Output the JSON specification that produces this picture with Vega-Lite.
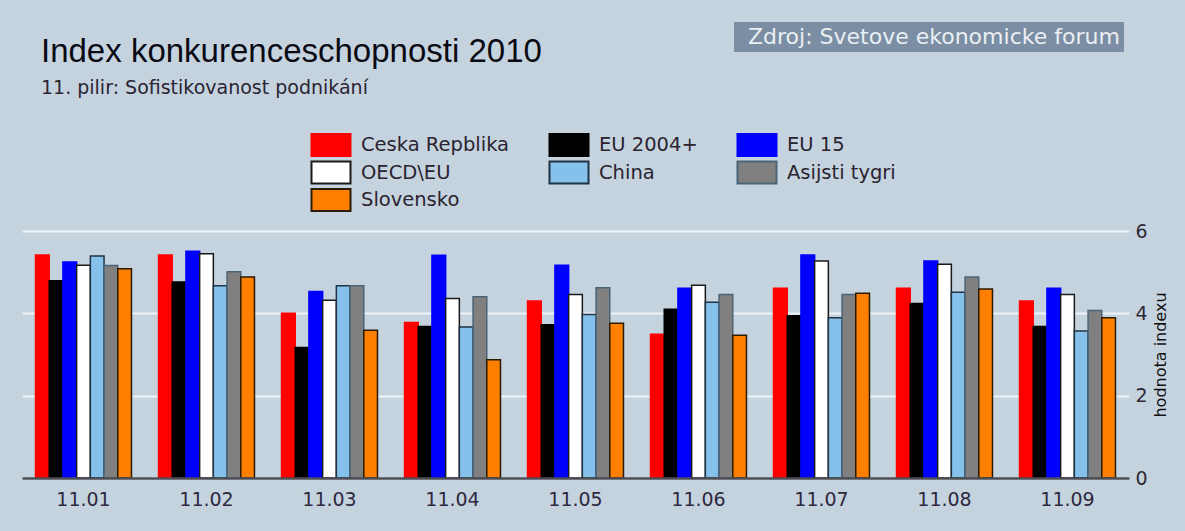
{
  "$schema": "https://vega.github.io/schema/vega-lite/v6.json",
  "width": 1107,
  "height": 247,
  "autosize": {"type": "none"},
  "padding": {"left": 22, "top": 231, "right": 56, "bottom": 53},
  "background": "#c5d3df",
  "config": {"view": {"stroke": null}},
  "title": {
    "text": "Index konkurenceschopnosti 2010",
    "subtitle": "11. pilir: Sofistikovanost podnikání",
    "anchor": "start",
    "frame": "group",
    "font": "Liberation Sans",
    "fontSize": 33,
    "fontWeight": "normal",
    "color": "#0a0a14",
    "subtitleFont": "DejaVu Sans",
    "subtitleFontSize": 19,
    "subtitleColor": "#2a2433",
    "subtitlePadding": 10,
    "offset": 0,
    "dy": 76,
    "dx": 19
  },
  "layer": [
    {
      "data": {"values": [
        {"pilir": "11.01", "skupina": "Ceska Repblika", "hodnota": 5.42},
        {"pilir": "11.01", "skupina": "EU 2004+", "hodnota": 4.79},
        {"pilir": "11.01", "skupina": "EU 15", "hodnota": 5.25},
        {"pilir": "11.01", "skupina": "OECD\\EU", "hodnota": 5.17},
        {"pilir": "11.01", "skupina": "China", "hodnota": 5.39},
        {"pilir": "11.01", "skupina": "Asijsti tygri", "hodnota": 5.16},
        {"pilir": "11.01", "skupina": "Slovensko", "hodnota": 5.08},
        {"pilir": "11.02", "skupina": "Ceska Repblika", "hodnota": 5.42},
        {"pilir": "11.02", "skupina": "EU 2004+", "hodnota": 4.76},
        {"pilir": "11.02", "skupina": "EU 15", "hodnota": 5.51},
        {"pilir": "11.02", "skupina": "OECD\\EU", "hodnota": 5.45},
        {"pilir": "11.02", "skupina": "China", "hodnota": 4.67},
        {"pilir": "11.02", "skupina": "Asijsti tygri", "hodnota": 5.01},
        {"pilir": "11.02", "skupina": "Slovensko", "hodnota": 4.88},
        {"pilir": "11.03", "skupina": "Ceska Repblika", "hodnota": 4.0},
        {"pilir": "11.03", "skupina": "EU 2004+", "hodnota": 3.17},
        {"pilir": "11.03", "skupina": "EU 15", "hodnota": 4.53},
        {"pilir": "11.03", "skupina": "OECD\\EU", "hodnota": 4.32},
        {"pilir": "11.03", "skupina": "China", "hodnota": 4.67},
        {"pilir": "11.03", "skupina": "Asijsti tygri", "hodnota": 4.67},
        {"pilir": "11.03", "skupina": "Slovensko", "hodnota": 3.59},
        {"pilir": "11.04", "skupina": "Ceska Repblika", "hodnota": 3.78},
        {"pilir": "11.04", "skupina": "EU 2004+", "hodnota": 3.68},
        {"pilir": "11.04", "skupina": "EU 15", "hodnota": 5.41},
        {"pilir": "11.04", "skupina": "OECD\\EU", "hodnota": 4.36},
        {"pilir": "11.04", "skupina": "China", "hodnota": 3.67},
        {"pilir": "11.04", "skupina": "Asijsti tygri", "hodnota": 4.4},
        {"pilir": "11.04", "skupina": "Slovensko", "hodnota": 2.87},
        {"pilir": "11.05", "skupina": "Ceska Repblika", "hodnota": 4.3},
        {"pilir": "11.05", "skupina": "EU 2004+", "hodnota": 3.72},
        {"pilir": "11.05", "skupina": "EU 15", "hodnota": 5.17},
        {"pilir": "11.05", "skupina": "OECD\\EU", "hodnota": 4.46},
        {"pilir": "11.05", "skupina": "China", "hodnota": 3.97},
        {"pilir": "11.05", "skupina": "Asijsti tygri", "hodnota": 4.62},
        {"pilir": "11.05", "skupina": "Slovensko", "hodnota": 3.76},
        {"pilir": "11.06", "skupina": "Ceska Repblika", "hodnota": 3.49},
        {"pilir": "11.06", "skupina": "EU 2004+", "hodnota": 4.1},
        {"pilir": "11.06", "skupina": "EU 15", "hodnota": 4.61},
        {"pilir": "11.06", "skupina": "OECD\\EU", "hodnota": 4.68},
        {"pilir": "11.06", "skupina": "China", "hodnota": 4.27},
        {"pilir": "11.06", "skupina": "Asijsti tygri", "hodnota": 4.46},
        {"pilir": "11.06", "skupina": "Slovensko", "hodnota": 3.47},
        {"pilir": "11.07", "skupina": "Ceska Repblika", "hodnota": 4.61},
        {"pilir": "11.07", "skupina": "EU 2004+", "hodnota": 3.94},
        {"pilir": "11.07", "skupina": "EU 15", "hodnota": 5.42},
        {"pilir": "11.07", "skupina": "OECD\\EU", "hodnota": 5.27},
        {"pilir": "11.07", "skupina": "China", "hodnota": 3.89},
        {"pilir": "11.07", "skupina": "Asijsti tygri", "hodnota": 4.46},
        {"pilir": "11.07", "skupina": "Slovensko", "hodnota": 4.49},
        {"pilir": "11.08", "skupina": "Ceska Repblika", "hodnota": 4.61},
        {"pilir": "11.08", "skupina": "EU 2004+", "hodnota": 4.24},
        {"pilir": "11.08", "skupina": "EU 15", "hodnota": 5.27},
        {"pilir": "11.08", "skupina": "OECD\\EU", "hodnota": 5.19},
        {"pilir": "11.08", "skupina": "China", "hodnota": 4.51},
        {"pilir": "11.08", "skupina": "Asijsti tygri", "hodnota": 4.88},
        {"pilir": "11.08", "skupina": "Slovensko", "hodnota": 4.59},
        {"pilir": "11.09", "skupina": "Ceska Repblika", "hodnota": 4.3},
        {"pilir": "11.09", "skupina": "EU 2004+", "hodnota": 3.68},
        {"pilir": "11.09", "skupina": "EU 15", "hodnota": 4.61},
        {"pilir": "11.09", "skupina": "OECD\\EU", "hodnota": 4.46},
        {"pilir": "11.09", "skupina": "China", "hodnota": 3.57},
        {"pilir": "11.09", "skupina": "Asijsti tygri", "hodnota": 4.07},
        {"pilir": "11.09", "skupina": "Slovensko", "hodnota": 3.89}
      ]},
      "mark": {"type": "bar", "strokeWidth": 1.5},
      "encoding": {
        "x": {
          "field": "pilir",
          "type": "nominal",
          "scale": {"paddingInner": 0.22, "paddingOuter": 0.11},
          "axis": {
            "orient": "bottom",
            "title": null,
            "labelAngle": 0,
            "ticks": false,
            "domainColor": "#4d4d55",
            "domainWidth": 2.5,
            "labelPadding": 12,
            "labelFont": "DejaVu Sans",
            "labelFontSize": 19,
            "labelColor": "#2e2840",
            "zindex": 1
          }
        },
        "xOffset": {
          "field": "skupina",
          "type": "nominal",
          "scale": {
            "domain": ["Ceska Repblika", "EU 2004+", "EU 15", "OECD\\EU", "China", "Asijsti tygri", "Slovensko"],
            "paddingInner": 0,
            "paddingOuter": 0
          }
        },
        "y": {
          "field": "hodnota",
          "type": "quantitative",
          "scale": {"domain": [0, 6]},
          "axis": {
            "orient": "right",
            "values": [0, 2, 4, 6],
            "grid": true,
            "gridColor": "#eef3f7",
            "gridWidth": 2,
            "domain": false,
            "ticks": false,
            "labelPadding": 6,
            "labelFont": "DejaVu Sans",
            "labelFontSize": 19,
            "labelColor": "#2e2a36",
            "title": "hodnota indexu",
            "titleAngle": 270,
            "titleFont": "DejaVu Sans",
            "titleFontSize": 16,
            "titleFontWeight": "normal",
            "titleColor": "#111111",
            "titlePadding": 21
          }
        },
        "color": {
          "field": "skupina",
          "type": "nominal",
          "scale": {
            "domain": ["Ceska Repblika", "EU 2004+", "EU 15", "OECD\\EU", "China", "Asijsti tygri", "Slovensko"],
            "range": ["#ff0000", "#000000", "#0000ff", "#ffffff", "#85c1eb", "#808080", "#ff8000"]
          },
          "legend": {
            "orient": "none",
            "legendX": 297,
            "legendY": -98,
            "columns": 3,
            "direction": "horizontal",
            "title": null,
            "symbolType": "M-1.773,-1H1.773V1H-1.773Z",
            "symbolSize": 484,
            "symbolStrokeWidth": 2,
            "symbolOpacity": 1,
            "labelOffset": 18,
            "labelFont": "DejaVu Sans",
            "labelFontSize": 19.5,
            "labelColor": "#2a2430",
            "labelLimit": 300,
            "columnPadding": 35,
            "rowPadding": -2.5
          }
        },
        "stroke": {
          "field": "skupina",
          "type": "nominal",
          "scale": {
            "domain": ["Ceska Repblika", "EU 2004+", "EU 15", "OECD\\EU", "China", "Asijsti tygri", "Slovensko"],
            "range": ["#ff0000", "#000000", "#0000ff", "#1a1a1a", "#1f3344", "#4a6478", "#2a1a00"]
          }
        }
      }
    },
    {
      "data": {"values": [{"zdroj": "Zdroj: Svetove ekonomicke forum"}]},
      "mark": {"type": "point", "opacity": 0},
      "encoding": {
        "shape": {
          "field": "zdroj",
          "type": "nominal",
          "legend": {
            "orient": "none",
            "legendX": 712,
            "legendY": -209,
            "title": null,
            "fillColor": "#7b8ea3",
            "padding": 4,
            "symbolOpacity": 0,
            "symbolStrokeWidth": 0,
            "symbolSize": 16,
            "labelOffset": -12,
            "labelFont": "DejaVu Sans",
            "labelFontSize": 22,
            "labelColor": "#eaeff4",
            "labelLimit": 500
          }
        }
      }
    }
  ]
}
